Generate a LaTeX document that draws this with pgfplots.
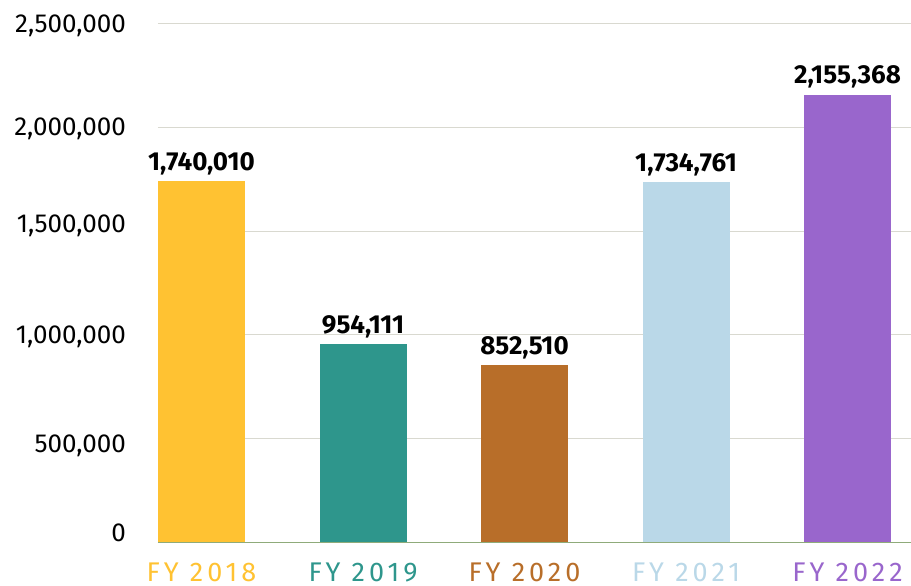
\documentclass[border=0pt]{standalone}
\usepackage{fontspec}
\setmainfont{Fira Sans}
\newfontfamily\spaced[LetterSpace=15]{Fira Sans}
\usepackage{pgfplots}
\pgfplotsset{compat=1.18}
\definecolor{c1}{HTML}{FFC232}
\definecolor{c2}{HTML}{2E968C}
\definecolor{c3}{HTML}{B86E29}
\definecolor{c4}{HTML}{BAD8E8}
\definecolor{c5}{HTML}{9966CC}
\definecolor{gridc}{HTML}{D9D9D0}
\definecolor{axisc}{HTML}{8FAB7A}
\begin{document}
\begin{tikzpicture}
\useasboundingbox (-158pt,-43.5pt) rectangle (753pt,542.5pt);
\begin{axis}[
  at={(0,0)}, anchor=south west,
  scale only axis, width=753pt, height=519.2pt,
  xmin=-0.2694, xmax=4.393, ymin=0, ymax=2500000,
  ytick={0,500000,1000000,1500000,2000000,2500000},
  yticklabels={{\raisebox{9.5pt}{0}},{\raisebox{-5.3pt}{500,000}},{1,000,000},{\raisebox{7.5pt}{1,500,000}},{\raisebox{1pt}{2,000,000}},{\raisebox{-0.7pt}{2,500,000}}},
  xtick={0,1,2,3,4},
  xticklabels={\textcolor{c1}{FY 2018},\textcolor{c2}{FY 2019},\textcolor{c3}{FY 2020},\textcolor{c4}{FY 2021},\textcolor{c5}{FY 2022}},
  major tick length=0pt,
  ymajorgrids, grid style={draw=gridc, line width=0.9pt},
  axis x line*=bottom, axis y line*=left,
  y axis line style={draw=none},
  x axis line style={draw=axisc, line width=1pt},
  scaled y ticks=false,
  yticklabel style={font=\fontsize{26}{30}\selectfont, anchor=base east, inner sep=0pt, xshift=-32pt, yshift=-9pt},
  xticklabel style={font=\spaced\fontsize{27}{30}\selectfont, anchor=base, inner sep=0pt, yshift=-39pt},
  point meta=explicit symbolic,
  nodes near coords,
  nodes near coords style={font=\bfseries\fontsize{26}{30}\selectfont, anchor=base, inner sep=0pt, yshift=11pt, text=black},
]
\addplot[ybar, bar width=87pt, bar shift=0pt, fill=c1, draw=none] coordinates {(0,1740010) [1,740,010]};
\addplot[ybar, bar width=87pt, bar shift=0pt, fill=c2, draw=none] coordinates {(1,954111) [954,111]};
\addplot[ybar, bar width=87pt, bar shift=0pt, fill=c3, draw=none] coordinates {(2,852510) [852,510]};
\addplot[ybar, bar width=87pt, bar shift=0pt, fill=c4, draw=none] coordinates {(3,1734761) [1,734,761]};
\addplot[ybar, bar width=87pt, bar shift=0pt, fill=c5, draw=none] coordinates {(4,2155368) [2,155,368]};
\end{axis}
\end{tikzpicture}
\end{document}
